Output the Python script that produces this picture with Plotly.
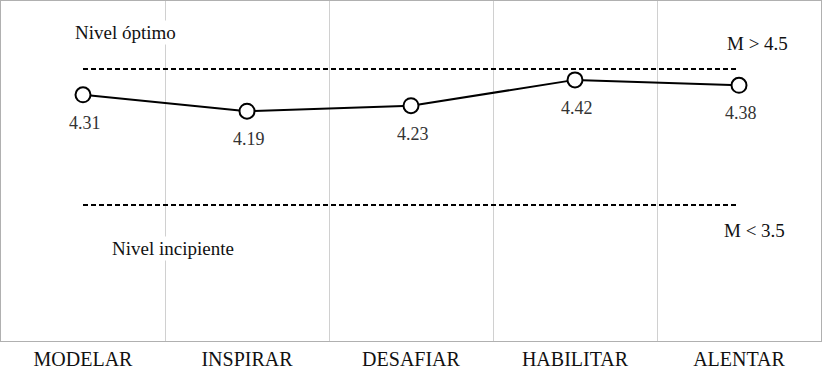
import plotly.graph_objects as go

categories = ["MODELAR", "INSPIRAR", "DESAFIAR", "HABILITAR", "ALENTAR"]
values = [4.31, 4.19, 4.23, 4.42, 4.38]
upper_level = 4.5
lower_level = 3.5
value_labels = ["4.31", "4.19", "4.23", "4.42", "4.38"]

FONT = "'Liberation Serif', 'DejaVu Serif', serif"

fig = go.Figure()

# threshold dashed lines
for lvl in (upper_level, lower_level):
    fig.add_trace(go.Scatter(x=[categories[0], categories[-1]], y=[lvl, lvl],
                             mode="lines", line=dict(color="black", width=2, dash="5px,3px"),
                             hoverinfo="skip", showlegend=False))

fig.add_trace(go.Scatter(x=categories, y=values, mode="lines+markers",
                         line=dict(color="black", width=2),
                         marker=dict(symbol="circle", size=15, color="white",
                                     line=dict(color="black", width=2)),
                         showlegend=False))

for c, v, t in zip(categories, values, value_labels):
    fig.add_annotation(x=c, y=v, text=t, showarrow=False, yshift=-28, xshift=2,
                       font=dict(family=FONT, size=18, color="#333333"))

fig.add_annotation(x=-0.06, y=4.765, xref="x", yref="y", text="Nivel óptimo", showarrow=False,
                   xanchor="left", bgcolor="white",
                   font=dict(family=FONT, size=19, color="#111111"))
fig.add_annotation(x=4.31, y=4.685, xref="x", yref="y", text="M &gt; 4.5", showarrow=False,
                   xanchor="right", font=dict(family=FONT, size=19, color="#111111"))
fig.add_annotation(x=0.165, y=3.18, xref="x", yref="y", text="Nivel incipiente", showarrow=False,
                   xanchor="left", bgcolor="white",
                   font=dict(family=FONT, size=19, color="#111111"))
fig.add_annotation(x=4.29, y=3.31, xref="x", yref="y", text="M &lt; 3.5", showarrow=False,
                   xanchor="right", font=dict(family=FONT, size=19, color="#111111"))

fig.update_layout(
    width=824, height=372,
    margin=dict(l=1, r=3, t=1, b=31),
    plot_bgcolor="white", paper_bgcolor="white",
    xaxis=dict(type="category", categoryorder="array", categoryarray=categories,
               tickson="boundaries", showgrid=True, gridcolor="#d0d0d0", gridwidth=1,
               showline=True, linecolor="#b0b0b0", linewidth=1, mirror=True,
               ticks="", range=[-0.5, 4.5],
               tickfont=dict(family=FONT, size=20, color="#111111")),
    yaxis=dict(range=[2.5, 5.0], showgrid=False, zeroline=False, showticklabels=False,
               showline=True, linecolor="#b0b0b0", linewidth=1, mirror=True, ticks=""),
)

fig.write_html("out.html", config={"displayModeBar": False},
               post_script="document.body.style.margin='0';document.body.style.overflow='hidden';")
